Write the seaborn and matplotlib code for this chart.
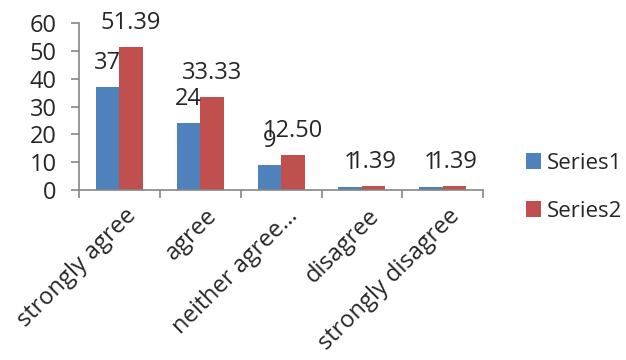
import numpy as np
import pandas as pd
import seaborn as sns
import matplotlib.pyplot as plt
import matplotlib.transforms as mtransforms
from matplotlib.ticker import FixedLocator

# dados
categorias = ["strongly agree", "agree", "neither agree…", "disagree", "strongly disagree"]
series1 = [37, 24, 9, 1, 1]
series2 = [51.39, 33.33, 12.50, 1.39, 1.39]
nomes_series = ["Series1", "Series2"]
yticks = [0, 10, 20, 30, 40, 50, 60]

df = pd.DataFrame({
    "categoria": categorias * 2,
    "valor": series1 + series2,
    "serie": [nomes_series[0]] * len(categorias) + [nomes_series[1]] * len(categorias),
})

sns.set_style("white")
plt.rcParams["font.family"] = ["Open Sans", "DejaVu Sans"]
fs = 17

fig = plt.figure(figsize=(6.26, 3.6), dpi=100)
ax = fig.add_axes([0.126, 0.472, 0.646, 0.464])

sns.barplot(data=df, x="categoria", y="valor", hue="serie", order=categorias,
            palette=["#4F81BD", "#C0504D"], saturation=1, width=0.58,
            linewidth=0, ax=ax)

# rótulos das barras
ax.bar_label(ax.containers[0], labels=[f"{v:g}" for v in series1], padding=9, fontsize=fs)
ax.bar_label(ax.containers[1], labels=[f"{v:.2f}" for v in series2], padding=9, fontsize=fs)

ax.set_ylim(0, 60)
ax.set_xlim(-0.5, len(categorias) - 0.5)
ax.set_yticks(yticks)
ax.set_xlabel("")
ax.set_ylabel("")

for s in ["top", "right"]:
    ax.spines[s].set_visible(False)
for s in ["left", "bottom"]:
    ax.spines[s].set_color("#868686")
    ax.spines[s].set_linewidth(1.2)

ax.tick_params(axis="y", length=6, width=1.2, color="#868686", pad=10, labelsize=fs, left=True)
ax.xaxis.set_minor_locator(FixedLocator(np.arange(-0.5, len(categorias), 1.0)))
ax.tick_params(axis="x", which="minor", length=6, width=1.2, color="#868686", bottom=True)
ax.tick_params(axis="x", which="major", length=0, pad=10, labelsize=fs)
desloc = mtransforms.ScaledTranslation(5 / 100, 0, fig.dpi_scale_trans)
for lab in ax.get_xticklabels():
    lab.set_rotation(45)
    lab.set_ha("right")
    lab.set_rotation_mode("anchor")
    lab.set_transform(lab.get_transform() + desloc)

handles, labels = ax.get_legend_handles_labels()
ax.legend(handles, labels, loc="center left", bbox_to_anchor=(0.840, 0.48),
          bbox_transform=fig.transFigure, frameon=False, fontsize=16,
          borderpad=0, borderaxespad=0,
          handlelength=0.7, handleheight=0.7, handletextpad=0.25, labelspacing=1.2)

fig.savefig("out.png", dpi=100)
